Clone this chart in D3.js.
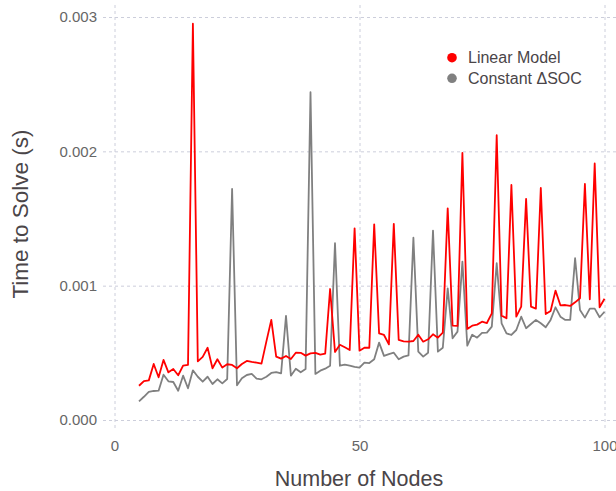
<!DOCTYPE html>
<html>
<head>
<meta charset="utf-8">
<script src="https://cdn.jsdelivr.net/npm/d3@7"></script>
<style>
  body { margin: 0; background: #fff; }
  text { font-family: "Liberation Sans", Arial, sans-serif; }
</style>
</head>
<body>
<div id="chart"></div>
<script>
'use strict';

// number of nodes (x)
var nodes = [
  5, 6, 7, 8, 9, 10, 11, 12, 13, 14, 15, 16, 17, 18, 19, 20,
  21, 22, 23, 24, 25, 26, 27, 28, 29, 30, 31, 32, 33, 34, 35, 36,
  37, 38, 39, 40, 41, 42, 43, 44, 45, 46, 47, 48, 49, 50, 51, 52,
  53, 54, 55, 56, 57, 58, 59, 60, 61, 62, 63, 64, 65, 66, 67, 68,
  69, 70, 71, 72, 73, 74, 75, 76, 77, 78, 79, 80, 81, 82, 83, 84,
  85, 86, 87, 88, 89, 90, 91, 92, 93, 94, 95, 96, 97, 98, 99, 100
];

// solve times in milliseconds
var linearModelMs = [
  0.255, 0.29, 0.295, 0.417, 0.318, 0.447, 0.355, 0.38, 0.333, 0.405, 0.41, 2.95, 0.437, 0.47, 0.538, 0.385,
  0.452, 0.39, 0.415, 0.41, 0.385, 0.417, 0.44, 0.432, 0.427, 0.42, 0.585, 0.745, 0.472, 0.457, 0.477, 0.454,
  0.501, 0.5, 0.479, 0.496, 0.5, 0.486, 0.494, 0.975, 0.506, 0.56, 0.541, 0.521, 1.427, 0.516, 0.538, 0.538,
  1.457, 0.645, 0.633, 0.563, 1.46, 0.596, 0.586, 0.583, 0.588, 0.635, 0.583, 0.601, 0.638, 0.613, 0.65, 1.576,
  0.702, 0.7, 1.988, 0.678, 0.702, 0.71, 0.732, 0.722, 0.794, 2.12, 0.777, 0.757, 1.75, 0.769, 0.844, 1.646,
  0.844, 0.829, 1.727, 0.789, 0.812, 0.963, 0.854, 0.856, 0.849, 0.876, 0.906, 1.757, 0.899, 1.91, 0.839, 0.903
];

var constantSocMs = [
  0.139, 0.173, 0.21, 0.216, 0.218, 0.337, 0.288, 0.283, 0.218, 0.33, 0.236, 0.37, 0.322, 0.285, 0.322, 0.268,
  0.303, 0.273, 0.305, 1.72, 0.258, 0.31, 0.335, 0.343, 0.308, 0.303, 0.322, 0.35, 0.357, 0.347, 0.775, 0.33,
  0.382, 0.355, 0.38, 2.44, 0.343, 0.367, 0.382, 0.404, 1.316, 0.404, 0.412, 0.405, 0.395, 0.39, 0.427, 0.424,
  0.452, 0.576, 0.477, 0.491, 0.501, 0.452, 0.472, 0.481, 1.357, 0.509, 0.472, 0.501, 1.41, 0.509, 0.538, 0.98,
  0.608, 0.658, 1.179, 0.553, 0.635, 0.613, 0.648, 0.65, 0.695, 1.167, 0.72, 0.645, 0.633, 0.67, 0.769, 0.683,
  0.715, 0.745, 0.72, 0.69, 0.745, 0.839, 0.769, 0.745, 0.745, 1.204, 0.819, 0.762, 0.829, 0.829, 0.765, 0.806
];

var xTicks = [0, 50, 100];
var yTicks = [0, 0.001, 0.002, 0.003];

var series = [
  { name: 'Linear Model', color: '#ff0000', values: linearModelMs },
  { name: 'Constant \u0394SOC', color: '#808080', values: constantSocMs }
];

var W = 616, H = 491;
var panel = { left: 103, right: 616, top: 5, bottom: 430 };

var x = d3.scaleLinear().domain([0, 100]).range([114.5, 604.5]);
var y = d3.scaleLinear().domain([0, 0.003]).range([420, 17]);

var svg = d3.select('#chart').append('svg')
  .attr('width', W)
  .attr('height', H);

// grid + tick labels
var gx = svg.append('g')
  .attr('transform', 'translate(0,' + panel.top + ')')
  .call(d3.axisBottom(x)
    .tickValues(xTicks)
    .tickFormat(d3.format('d'))
    .tickSize(panel.bottom - panel.top)
    .tickPadding(10));

var gy = svg.append('g')
  .attr('transform', 'translate(' + panel.right + ',0)')
  .call(d3.axisLeft(y)
    .tickValues(yTicks)
    .tickFormat(d3.format('.3f'))
    .tickSize(panel.right - panel.left)
    .tickPadding(6));

[gx, gy].forEach(function(g) {
  g.select('.domain').remove();
  g.selectAll('.tick line')
    .attr('stroke', '#cccedb')
    .attr('stroke-width', 1)
    .attr('stroke-dasharray', '3,3');
  g.selectAll('.tick text')
    .attr('fill', '#666666')
    .style('font-size', '15px');
});

// lines
var line = d3.line()
  .x(function(d) { return x(d.n); })
  .y(function(d) { return y(d.t); });

// grey drawn first so red sits on top
series.slice().reverse().forEach(function(s) {
  var pts = nodes.map(function(n, i) {
    return { n: n, t: s.values[i] / 1000 };
  });
  svg.append('path')
    .datum(pts)
    .attr('fill', 'none')
    .attr('stroke', s.color)
    .attr('stroke-width', 1.8)
    .attr('stroke-linejoin', 'round')
    .attr('d', line);
});

// legend
var legend = svg.append('g')
  .selectAll('g')
  .data(series)
  .enter()
  .append('g')
  .attr('transform', function(d, i) {
    return 'translate(452,' + (57.7 + i * 20.6) + ')';
  });

legend.append('circle')
  .attr('r', 4.8)
  .attr('fill', function(d) { return d.color; });

legend.append('text')
  .attr('x', 16)
  .attr('dy', '0.36em')
  .attr('fill', '#4a4548')
  .style('font-size', '16px')
  .text(function(d) { return d.name; });

// axis titles
svg.append('text')
  .attr('x', 359)
  .attr('y', 486)
  .attr('text-anchor', 'middle')
  .attr('fill', '#4a4548')
  .style('font-size', '21.5px')
  .text('Number of Nodes');

svg.append('text')
  .attr('transform', 'translate(28,214) rotate(-90)')
  .attr('text-anchor', 'middle')
  .attr('fill', '#4a4548')
  .style('font-size', '22.5px')
  .text('Time to Solve (s)');
</script>
</body>
</html>
